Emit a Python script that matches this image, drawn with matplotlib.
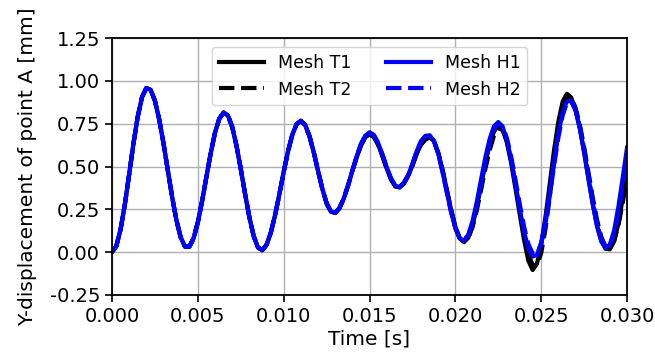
import numpy as np
import matplotlib
matplotlib.use("Agg")
import matplotlib.pyplot as plt
from matplotlib.ticker import FormatStrFormatter

# sampling instants [s] (0 to 0.03 s, every 0.25 ms)
time_s = np.linspace(0.0, 0.030, 121)

mesh_H1 = [0.000, 0.034, 0.133, 0.279, 0.455, 0.635, 0.792, 0.906, 0.959, 0.948,
           0.884, 0.775, 0.635, 0.478, 0.323, 0.187, 0.086, 0.032, 0.031, 0.080,
           0.174, 0.299, 0.440, 0.578, 0.698, 0.780, 0.815, 0.799, 0.732, 0.622,
           0.486, 0.340, 0.204, 0.094, 0.027, 0.011, 0.042, 0.113, 0.216, 0.339,
           0.468, 0.587, 0.685, 0.747, 0.767, 0.743, 0.678, 0.584, 0.475, 0.370,
           0.285, 0.236, 0.229, 0.257, 0.313, 0.389, 0.475, 0.560, 0.632, 0.680,
           0.699, 0.684, 0.638, 0.571, 0.496, 0.431, 0.388, 0.379, 0.405, 0.450,
           0.515, 0.590, 0.648, 0.678, 0.683, 0.650, 0.576, 0.470, 0.350, 0.234,
           0.139, 0.080, 0.066, 0.101, 0.181, 0.294, 0.426, 0.555, 0.662, 0.735,
           0.760, 0.733, 0.654, 0.536, 0.395, 0.249, 0.119, 0.023, -0.026, -0.018,
           0.056, 0.186, 0.351, 0.530, 0.692, 0.816, 0.882, 0.882, 0.827, 0.723,
           0.585, 0.431, 0.281, 0.150, 0.062, 0.023, 0.044, 0.127, 0.267, 0.436,
           0.610]

mesh_H2 = [0.000, 0.034, 0.133, 0.279, 0.455, 0.635, 0.792, 0.906, 0.959, 0.948,
           0.884, 0.775, 0.635, 0.478, 0.323, 0.187, 0.086, 0.032, 0.031, 0.080,
           0.174, 0.299, 0.440, 0.578, 0.698, 0.780, 0.815, 0.799, 0.732, 0.622,
           0.486, 0.340, 0.204, 0.094, 0.027, 0.011, 0.042, 0.113, 0.216, 0.339,
           0.468, 0.587, 0.685, 0.747, 0.767, 0.743, 0.678, 0.584, 0.475, 0.370,
           0.285, 0.236, 0.229, 0.257, 0.313, 0.389, 0.475, 0.560, 0.632, 0.680,
           0.699, 0.684, 0.638, 0.571, 0.496, 0.431, 0.388, 0.379, 0.405, 0.450,
           0.515, 0.590, 0.648, 0.678, 0.683, 0.650, 0.576, 0.470, 0.350, 0.234,
           0.139, 0.080, 0.072, 0.097, 0.167, 0.273, 0.399, 0.527, 0.637, 0.716,
           0.751, 0.735, 0.668, 0.560, 0.424, 0.281, 0.150, 0.048, -0.008, -0.012,
           0.049, 0.168, 0.329, 0.504, 0.669, 0.799, 0.873, 0.881, 0.832, 0.736,
           0.604, 0.452, 0.301, 0.172, 0.075, 0.029, 0.038, 0.109, 0.231, 0.387,
           0.555]

mesh_T1 = [0.000, 0.034, 0.133, 0.279, 0.455, 0.635, 0.792, 0.906, 0.959, 0.948,
           0.884, 0.775, 0.635, 0.478, 0.323, 0.187, 0.086, 0.032, 0.031, 0.080,
           0.174, 0.299, 0.440, 0.578, 0.698, 0.780, 0.815, 0.799, 0.732, 0.622,
           0.486, 0.340, 0.204, 0.094, 0.027, 0.011, 0.042, 0.113, 0.216, 0.339,
           0.468, 0.587, 0.685, 0.747, 0.767, 0.743, 0.678, 0.584, 0.475, 0.370,
           0.285, 0.236, 0.229, 0.257, 0.313, 0.389, 0.475, 0.552, 0.622, 0.670,
           0.688, 0.673, 0.628, 0.561, 0.488, 0.425, 0.384, 0.377, 0.400, 0.445,
           0.505, 0.575, 0.628, 0.658, 0.672, 0.649, 0.582, 0.482, 0.365, 0.248,
           0.148, 0.081, 0.058, 0.083, 0.155, 0.263, 0.391, 0.520, 0.629, 0.705,
           0.738, 0.718, 0.640, 0.520, 0.372, 0.220, 0.072, -0.050, -0.105, -0.069,
           0.040, 0.206, 0.400, 0.597, 0.763, 0.880, 0.925, 0.903, 0.833, 0.722,
           0.582, 0.430, 0.283, 0.158, 0.065, 0.019, 0.016, 0.063, 0.168, 0.317,
           0.559]

mesh_T2 = [0.000, 0.034, 0.133, 0.279, 0.455, 0.635, 0.792, 0.906, 0.959, 0.948,
           0.884, 0.775, 0.635, 0.478, 0.323, 0.187, 0.086, 0.032, 0.031, 0.080,
           0.174, 0.299, 0.440, 0.578, 0.698, 0.780, 0.815, 0.799, 0.732, 0.622,
           0.486, 0.340, 0.204, 0.094, 0.027, 0.011, 0.042, 0.113, 0.216, 0.339,
           0.468, 0.587, 0.685, 0.747, 0.767, 0.743, 0.678, 0.584, 0.475, 0.370,
           0.285, 0.236, 0.229, 0.257, 0.313, 0.389, 0.475, 0.552, 0.622, 0.670,
           0.688, 0.673, 0.628, 0.561, 0.488, 0.425, 0.384, 0.377, 0.400, 0.445,
           0.505, 0.575, 0.628, 0.658, 0.672, 0.649, 0.582, 0.482, 0.365, 0.248,
           0.148, 0.081, 0.062, 0.082, 0.145, 0.244, 0.364, 0.487, 0.595, 0.680,
           0.721, 0.714, 0.651, 0.541, 0.397, 0.243, 0.100, -0.011, -0.074, -0.078,
           -0.006, 0.135, 0.322, 0.524, 0.708, 0.844, 0.911, 0.903, 0.844, 0.745,
           0.613, 0.468, 0.320, 0.190, 0.089, 0.032, 0.023, 0.066, 0.158, 0.287,
           0.437]

series = [
    ("Mesh T1", mesh_T1, "black", "-"),
    ("Mesh T2", mesh_T2, "black", "--"),
    ("Mesh H1", mesh_H1, "blue", "-"),
    ("Mesh H2", mesh_H2, "blue", "--"),
]

fig = plt.figure(figsize=(6.55, 3.54), dpi=100)
ax = fig.add_axes([0.171, 0.1672, 0.7863, 0.7249])

for label, vals, color, ls in series:
    ax.plot(time_s, vals, color=color, linestyle=ls, linewidth=3, label=label)

ax.set_xlim(0.0, 0.030)
ax.set_ylim(-0.25, 1.25)
ax.set_xticks(np.arange(0, 0.0301, 0.005))
ax.set_yticks(np.arange(-0.25, 1.2501, 0.25))
ax.xaxis.set_major_formatter(FormatStrFormatter('%.3f'))
ax.yaxis.set_major_formatter(FormatStrFormatter('%.2f'))
ax.tick_params(labelsize=14, width=1.2, length=5)
for sp in ax.spines.values():
    sp.set_linewidth(1.3)
ax.grid(True, color='#b0b0b0', linewidth=1.0)
ax.set_axisbelow(True)

ax.set_xlabel("Time [s]", fontsize=14.5, labelpad=3)
ax.set_ylabel("Y-displacement of point A [mm]", fontsize=14.5, labelpad=9)

ax.legend(loc='upper center', ncol=2, fontsize=12.5, handlelength=2.6)

fig.savefig("out.png", dpi=100)
